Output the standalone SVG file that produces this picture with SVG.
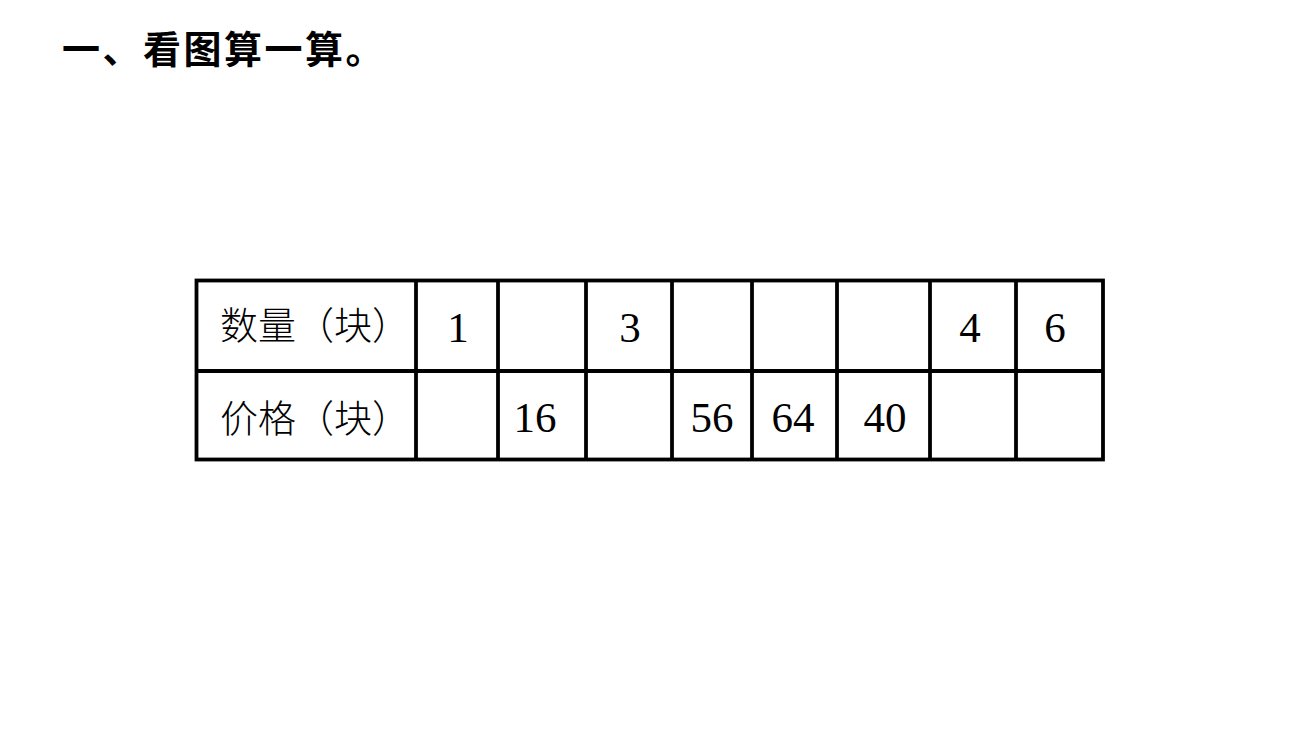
<svg xmlns="http://www.w3.org/2000/svg" width="1300" height="740" viewBox="0 0 1300 740">
<style>
.title{font-family:"Noto Sans CJK SC","Liberation Serif",sans-serif;font-size:38px;font-weight:bold;fill:#000;letter-spacing:2.5px}
.lab{font-family:"Noto Sans CJK SC",sans-serif;font-size:38px;font-weight:300;fill:#000}
.num{font-family:"Liberation Serif",serif;font-size:43px;fill:#000;text-anchor:middle}
.grid{stroke:#000;stroke-width:3.8;fill:none}
</style>
<rect width="1300" height="740" fill="#fff"/>
<text class="title" x="62" y="63">一、看图算一算。</text>
<g id="table">
<rect class="grid" x="196.5" y="280.5" width="906.5" height="179"/>
<line class="grid" x1="196.5" y1="371" x2="1103" y2="371"/>
<line class="grid" x1="416" y1="280.5" x2="416" y2="459.5"/>
<line class="grid" x1="498" y1="280.5" x2="498" y2="459.5"/>
<line class="grid" x1="586" y1="280.5" x2="586" y2="459.5"/>
<line class="grid" x1="672" y1="280.5" x2="672" y2="459.5"/>
<line class="grid" x1="752" y1="280.5" x2="752" y2="459.5"/>
<line class="grid" x1="837" y1="280.5" x2="837" y2="459.5"/>
<line class="grid" x1="930" y1="280.5" x2="930" y2="459.5"/>
<line class="grid" x1="1016" y1="280.5" x2="1016" y2="459.5"/>
</g>
<g id="row1">
<text class="lab" x="220" y="339">数量（块）</text>
<text class="num" x="458" y="342">1</text>
<text class="num" x="630" y="342">3</text>
<text class="num" x="970" y="342">4</text>
<text class="num" x="1055" y="342">6</text>
</g>
<g id="row2">
<text class="lab" x="220" y="432">价格（块）</text>
<text class="num" x="535" y="432">16</text>
<text class="num" x="712" y="432">56</text>
<text class="num" x="793" y="432">64</text>
<text class="num" x="885" y="432">40</text>
</g>
</svg>
